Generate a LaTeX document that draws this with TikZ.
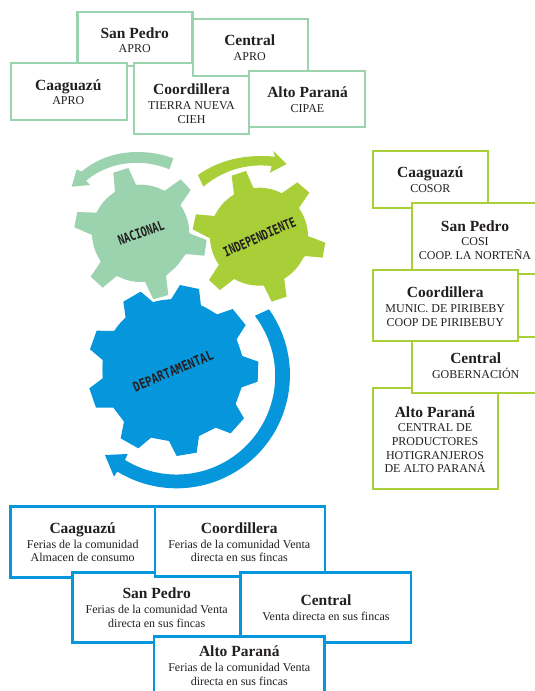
\documentclass[tikz,border=0pt]{standalone}
\usepackage{fontspec}
\setmainfont{Liberation Serif}
\newfontfamily\gearfont{DejaVu Sans Mono}
\definecolor{lgreen}{HTML}{9CD3AF}
\definecolor{lime}{HTML}{A8CF38}
\definecolor{bblue}{HTML}{0696DB}
\definecolor{ink}{HTML}{231F20}
\newcommand{\tx}[5]{\node[txt] (#1) at (#2,#3-7) {{\fontsize{15.5}{13.7}\selectfont\bfseries\rule{0pt}{12pt}#4}\\[0.9pt]#5};}
\tikzset{
  txt/.style={anchor=north,inner sep=0pt,align=center,text=ink,font=\fontsize{12}{13.7}\selectfont},
  gbox/.style={draw=lgreen,fill=white,line width=2.2pt,line join=miter},
  lbox/.style={draw=lime,fill=white,line width=2.2pt},
  bbox/.style={draw=bblue,fill=white,line width=2.7pt},
  gearlabel/.style={text=ink,inner sep=0pt,font=\gearfont\bfseries\fontsize{13.5}{13.5}\selectfont},
  zoomtwo/.style={shift={(60,140)},scale=0.33333},
  zoomthree/.style={shift={(70,280)},scale=0.33333}
}
\begin{document}
\begin{tikzpicture}[x=1pt,y=-1pt]
\useasboundingbox (0,0) rectangle (535,691);
\clip (0,0) rectangle (535,691);
\fill[white] (0,0) rectangle (535,691);
% top boxes
\draw[gbox] (77.5,12) rectangle (192.5,66);
\draw[gbox] (10.7,63.3) rectangle (126.7,120);
\draw[gbox] (134.3,63.3) rectangle (249.3,134);
\draw[gbox] (192.7,19) rectangle (307.7,75.7);
\draw[gbox] (249.3,70.7) rectangle (365,126.7);
\tx{a1}{134.7}{33}{San Pedro}{APRO}
\tx{a2}{249.7}{40.5}{Central}{APRO}
\tx{a3}{68.3}{85}{Caaguazú}{APRO}
\tx{a4}{191.5}{89.5}{Coordillera}{TIERRA NUEVA\\CIEH}
\tx{a5}{307.5}{92.5}{Alto Paraná}{CIPAE}
% gears
\begin{scope}[zoomtwo]
\fill[lgreen] (242,280) circle[radius=146];
\fill[lgreen] (160,98)--(205,84)--(228,134)--(315,152)--(362,118)--(392,150)--(360,197)--(388,280)--(440,300)--(433,347)--(378,342)--(318,408)--(325,465)--(280,478)--(255,425)--(170,408)--(128,443)--(92,410)--(122,365)--(97,285)--(43,262)--(52,216)--(110,218)--(165,155)--cycle;
\fill[lgreen] (340,55) .. controls (250,22) and (140,30) .. (65,95) -- (50,88) -- (35,140) -- (90,135) -- (78,122) .. controls (150,62) and (250,55) .. (328,88) -- cycle;
\fill[lime] (597,290) circle[radius=147];
\fill[lime] (515,107)--(558,93)--(582,148)--(665,160)--(712,127)--(748,158)--(716,205)--(743,288)--(796,308)--(788,353)--(735,348)--(672,413)--(680,470)--(635,485)--(608,430)--(525,415)--(480,450)--(447,420)--(478,372)--(450,295)--(398,268)--(408,223)--(465,228)--(522,163)--cycle;
\fill[lime] (414,105) .. controls (480,58) and (560,42) .. (645,50) -- (640,33) -- (680,72) -- (630,98) -- (635,78) .. controls (560,70) and (490,90) .. (430,140) -- cycle;
\end{scope}
\begin{scope}[zoomthree]
\fill[bblue] (308,268) circle[radius=210];
\fill[bblue] (330,15)--(387,27)--(393,78)--(442,103)--(488,87)--(527,135)--(500,178)--(517,228)--(565,245)--(563,305)--(515,322)--(497,372)--(522,415)--(482,460)--(437,443)--(387,468)--(380,518)--(320,528)--(297,483)--(243,473)--(205,505)--(152,475)--(162,425)--(130,383)--(78,383)--(58,325)--(98,295)--(98,240)--(60,208)--(80,152)--(135,153)--(167,113)--(160,65)--(212,35)--(250,67)--(303,58)--cycle;
\fill[bblue] (597,88) arc[start angle=-35.4,end angle=121.6,radius=340] -- (132,590) -- (105,525) -- (173,522) -- (165,540) arc[start angle=121.5,end angle=-37.5,radius=296] -- cycle;
\end{scope}
\node[gearlabel,rotate=20] (nac) at (141,233) {\scalebox{0.74}[1]{NACIONAL}};
\node[gearlabel,rotate=24] (ind) at (259.5,237) {\scalebox{0.74}[1]{INDEPENDIENTE}};
\node[gearlabel,rotate=22.8] (dep) at (173,371) {\scalebox{0.81}[1]{DEPARTAMENTAL}};
% right boxes
\draw[lbox] (372.7,151) rectangle (488,208.3);
\draw[lbox] (411.7,202.7) rectangle (545,274.3);
\draw[lbox] (372.7,388.3) rectangle (497.7,489.3);
\draw[lbox] (411.7,336.7) rectangle (545,393.3);
\draw[lbox] (372.7,270) rectangle (518.3,341);
\tx{b1}{430.3}{172.7}{Caaguazú}{COSOR}
\tx{b2}{475}{226}{San Pedro}{COSI\\COOP. LA NORTEÑA}
\tx{b3}{445.3}{292.7}{Coordillera}{MUNIC. DE PIRIBEBY\\COOP DE PIRIBEBUY}
\tx{b4}{475.7}{358.7}{Central}{GOBERNACIÓN}
\tx{b5}{435}{412}{Alto Paraná}{CENTRAL DE\\PRODUCTORES\\HOTIGRANJEROS\\DE ALTO PARANÁ}
% bottom boxes
\draw[bbox] (10.7,506.7) rectangle (155,577.3);
\draw[bbox] (72.7,572.3) rectangle (240.7,642.7);
\draw[bbox] (155,506.7) rectangle (325,576.7);
\draw[bbox] (240.7,572.3) rectangle (411,642.7);
\draw[bbox] (154,636.7) rectangle (324.3,700);
\tx{c1}{82.7}{528.3}{Caaguazú}{Ferias de la comunidad\\Almacen de consumo}
\tx{c2}{239.3}{528.3}{Coordillera}{Ferias de la comunidad Venta\\directa en sus fincas}
\tx{c3}{156.7}{593.7}{San Pedro}{Ferias de la comunidad Venta\\directa en sus fincas}
\tx{c4}{326}{600.7}{Central}{Venta directa en sus fincas}
\tx{c5}{239.3}{651.7}{Alto Paraná}{Ferias de la comunidad Venta\\directa en sus fincas}
\end{tikzpicture}
\end{document}
